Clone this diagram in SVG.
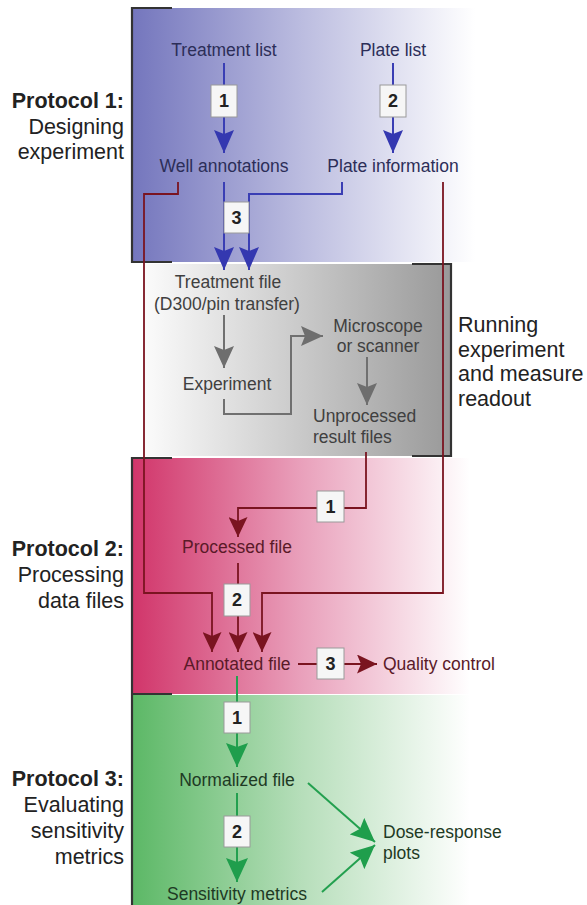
<svg xmlns="http://www.w3.org/2000/svg" width="587" height="905" viewBox="0 0 587 905">
<defs>
<linearGradient id="gBlue" x1="132" y1="0" x2="475" y2="0" gradientUnits="userSpaceOnUse">
<stop offset="0" stop-color="#7476bd"/><stop offset="0.5" stop-color="#bcbde0"/><stop offset="1" stop-color="#ffffff"/>
</linearGradient>
<linearGradient id="gGray" x1="145" y1="0" x2="452" y2="0" gradientUnits="userSpaceOnUse">
<stop offset="0" stop-color="#fbfbfb"/><stop offset="1" stop-color="#999999"/>
</linearGradient>
<linearGradient id="gRed" x1="132" y1="0" x2="470" y2="0" gradientUnits="userSpaceOnUse">
<stop offset="0" stop-color="#d1356a"/><stop offset="0.5" stop-color="#e9a0bb"/><stop offset="1" stop-color="#ffffff"/>
</linearGradient>
<linearGradient id="gGreen" x1="132" y1="0" x2="470" y2="0" gradientUnits="userSpaceOnUse">
<stop offset="0" stop-color="#5cb866"/><stop offset="0.5" stop-color="#b6deba"/><stop offset="1" stop-color="#ffffff"/>
</linearGradient>
<marker id="aBlue" markerUnits="userSpaceOnUse" markerWidth="23" markerHeight="20" refX="23" refY="10" orient="auto"><path d="M0,0 L23,10 L0,20 L4,10 z" fill="#3438b0"/></marker>
<marker id="aGray" markerUnits="userSpaceOnUse" markerWidth="22" markerHeight="20" refX="22" refY="10" orient="auto"><path d="M0,0 L22,10 L0,20 L4,10 z" fill="#6e6e6e"/></marker>
<marker id="aRed" markerUnits="userSpaceOnUse" markerWidth="20" markerHeight="19" refX="20" refY="9.5" orient="auto"><path d="M0,0 L20,9.5 L0,19 L4,9.5 z" fill="#7a1420"/></marker>
<marker id="aGreen" markerUnits="userSpaceOnUse" markerWidth="24" markerHeight="22" refX="24" refY="11" orient="auto"><path d="M0,0 L24,11 L0,22 L4,11 z" fill="#1f9e4c"/></marker>
</defs>
<style>
text{font-family:"Liberation Sans",Arial,sans-serif}
.h{font-size:21.5px;fill:#222;text-anchor:end}
.hb{font-weight:bold}
.side{font-size:21.5px;fill:#222}
.n{font-size:17.5px;text-anchor:middle}
.l{font-size:17.5px;text-anchor:start}
.tb{fill:#2c2e58}.tg{fill:#404040}.tr{fill:#5a1a28}.tn{fill:#1e3a24}
.box{fill:#f6f6f6;stroke:#9a9a9a;stroke-width:1}
.bt{font-size:18px;font-weight:bold;fill:#222;text-anchor:middle}
.cb{fill:none;stroke:#3a3eb4;stroke-width:2}
.cg{fill:none;stroke:#707070;stroke-width:2}
.cr{fill:none;stroke:#7a1420;stroke-width:1.8}
.cn{fill:none;stroke:#23a04f;stroke-width:2}
.br{fill:none;stroke:#333;stroke-width:2.2}
</style>
<g id="panels">
<rect x="132" y="8" width="343" height="254" fill="url(#gBlue)"/>
<rect x="145" y="264" width="307" height="192" fill="url(#gGray)"/>
<rect x="132" y="458" width="338" height="236" fill="url(#gRed)"/>
<rect x="132" y="695" width="338" height="210" fill="url(#gGreen)"/>
<path class="br" d="M172,8 H132 V262 H172"/>
<path class="br" d="M412,264 H451 V456 H412"/>
<path class="br" d="M172,458 H132 V694 H172"/>
<path class="br" d="M132,695 V905"/>
</g>
<g id="labels">
<text class="h hb" x="124" y="108">Protocol 1:</text>
<text class="h" x="124" y="134">Designing</text>
<text class="h" x="124" y="159">experiment</text>
<text class="h hb" x="124" y="556">Protocol 2:</text>
<text class="h" x="124" y="582">Processing</text>
<text class="h" x="124" y="608">data files</text>
<text class="h hb" x="124" y="786">Protocol 3:</text>
<text class="h" x="124" y="812">Evaluating</text>
<text class="h" x="124" y="838">sensitivity</text>
<text class="h" x="124" y="864">metrics</text>
<text class="side" x="458" y="332">Running</text>
<text class="side" x="458" y="357">experiment</text>
<text class="side" x="458" y="381">and measure</text>
<text class="side" x="458" y="406">readout</text>
</g>
<g id="connectors">
<path class="cb" d="M224,63 V153" marker-end="url(#aBlue)"/>
<path class="cb" d="M393,63 V153" marker-end="url(#aBlue)"/>
<path class="cb" d="M224,182 V270" marker-end="url(#aBlue)"/>
<path class="cb" d="M342,182 V194 H249 V270" marker-end="url(#aBlue)"/>
<path class="cr" d="M178,182 V194 H144 V593 H212 V652" marker-end="url(#aRed)"/>
<path class="cr" d="M443,182 V593 H262 V652" marker-end="url(#aRed)"/>
<path class="cg" d="M224,315 V368" marker-end="url(#aGray)"/>
<path class="cg" d="M224,399 V414 H291 V336 H323" marker-end="url(#aGray)"/>
<path class="cg" d="M367,357 V405" marker-end="url(#aGray)"/>
<path class="cr" d="M366,452 V508 H238 V537" marker-end="url(#aRed)"/>
<path class="cr" d="M238,563 V652" marker-end="url(#aRed)"/>
<path class="cr" d="M298,664 H377" marker-end="url(#aRed)"/>
<path class="cn" d="M237,676 V767" marker-end="url(#aGreen)"/>
<path class="cn" d="M237,793 V882" marker-end="url(#aGreen)"/>
<path class="cn" d="M308,783 L375,842" marker-end="url(#aGreen)"/>
<path class="cn" d="M322,892 L375,845" marker-end="url(#aGreen)"/>
</g>
<g id="steps">
<g id="p1s1"><rect class="box" x="211" y="85" width="26" height="32"/><text class="bt" x="224" y="107">1</text></g>
<g id="p1s2"><rect class="box" x="380" y="85" width="26" height="32"/><text class="bt" x="393" y="107">2</text></g>
<g id="p1s3"><rect class="box" x="224" y="202" width="25" height="31"/><text class="bt" x="236.5" y="224">3</text></g>
<g id="p2s1"><rect class="box" x="317" y="491" width="27" height="31"/><text class="bt" x="330.5" y="513">1</text></g>
<g id="p2s2"><rect class="box" x="224" y="584" width="26" height="32"/><text class="bt" x="237" y="606">2</text></g>
<g id="p2s3"><rect class="box" x="317" y="648" width="27" height="31"/><text class="bt" x="330.5" y="670">3</text></g>
<g id="p3s1"><rect class="box" x="224" y="702" width="26" height="31"/><text class="bt" x="237" y="724">1</text></g>
<g id="p3s2"><rect class="box" x="224" y="816" width="26" height="31"/><text class="bt" x="237" y="838">2</text></g>
</g>
<g id="n-treatment-list"><text class="n tb" x="224" y="56">Treatment list</text></g>
<g id="n-plate-list"><text class="n tb" x="393" y="56">Plate list</text></g>
<g id="n-well-annotations"><text class="n tb" x="224" y="172">Well annotations</text></g>
<g id="n-plate-information"><text class="n tb" x="393" y="172">Plate information</text></g>
<g id="n-treatment-file"><text class="n tg" x="228" y="288">Treatment file</text><text class="n tg" x="227" y="310">(D300/pin transfer)</text></g>
<g id="n-experiment"><text class="n tg" x="227" y="390">Experiment</text></g>
<g id="n-microscope"><text class="n tg" x="378" y="332">Microscope</text><text class="n tg" x="378" y="352">or scanner</text></g>
<g id="n-unprocessed"><text class="l tg" x="313" y="422">Unprocessed</text><text class="l tg" x="313" y="443">result files</text></g>
<g id="n-processed"><text class="n tr" x="237" y="553">Processed file</text></g>
<g id="n-annotated"><text class="n tr" x="237" y="670">Annotated file</text></g>
<g id="n-quality"><text class="l tr" x="383" y="670">Quality control</text></g>
<g id="n-normalized"><text class="n tn" x="237" y="786">Normalized file</text></g>
<g id="n-sensitivity"><text class="n tn" x="237" y="900">Sensitivity metrics</text></g>
<g id="n-dose"><text class="l tn" x="383" y="838">Dose-response</text><text class="l tn" x="383" y="859">plots</text></g>
</svg>
